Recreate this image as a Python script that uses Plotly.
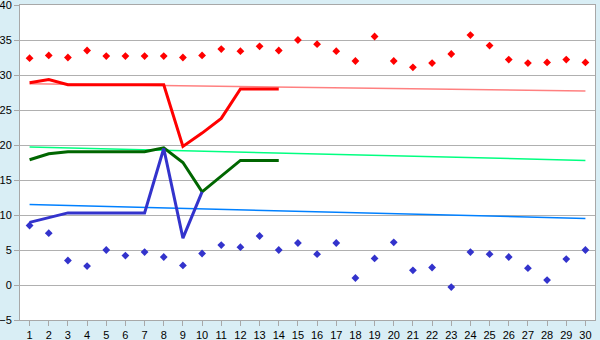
import plotly.graph_objects as go

categories = list(range(1, 31))

red_points = [32.4, 32.8, 32.5, 33.5, 32.7, 32.7, 32.7, 32.7, 32.5, 32.8,
              33.7, 33.4, 34.1, 33.5, 35.0, 34.4, 33.4, 32.0, 35.5, 32.0,
              31.1, 31.7, 33.0, 35.7, 34.2, 32.2, 31.7, 31.8, 32.2, 31.8]
blue_points = [8.5, 7.4, 3.5, 2.7, 5.0, 4.2, 4.7, 4.0, 2.8, 4.5,
               5.7, 5.4, 7.0, 5.0, 6.0, 4.4, 6.0, 1.0, 3.8, 6.1,
               2.1, 2.5, -0.3, 4.7, 4.4, 4.0, 2.4, 0.7, 3.7, 5.0]

red_line = [28.9, 29.35, 28.6, 28.6, 28.6, 28.6, 28.6, 28.6, 19.8, 21.7,
            23.8, 28.0, 28.0, 28.0]
green_line = [17.9, 18.75, 19.05, 19.1, 19.05, 19.05, 19.05, 19.6, 17.5, 13.3,
              15.5, 17.8, 17.8, 17.8]
blue_line = [8.95, 9.6, 10.3, 10.3, 10.3, 10.3, 10.3, 19.5, 6.7, 13.3]

trend_x = [1, 30]
red_trend = [28.75, 27.7]
green_trend = [19.7, 17.8]
blue_trend = [11.5, 9.5]

fig = go.Figure()

for y, c in [(red_trend, "#FF8080"), (green_trend, "#00FF80"), (blue_trend, "#0080FF")]:
    fig.add_trace(go.Scatter(x=trend_x, y=y, mode="lines",
                             line=dict(color=c, width=1.5), showlegend=False,
                             hoverinfo="skip"))

fig.add_trace(go.Scatter(x=categories[:len(red_line)], y=red_line, mode="lines",
                         line=dict(color="#FF0000", width=3), showlegend=False))
fig.add_trace(go.Scatter(x=categories[:len(green_line)], y=green_line, mode="lines",
                         line=dict(color="#006600", width=3), showlegend=False))
fig.add_trace(go.Scatter(x=categories[:len(blue_line)], y=blue_line, mode="lines",
                         line=dict(color="#3333CC", width=3), showlegend=False))

fig.add_trace(go.Scatter(x=categories, y=red_points, mode="markers",
                         marker=dict(symbol="diamond", size=6, color="#FF0000"),
                         showlegend=False))
fig.add_trace(go.Scatter(x=categories, y=blue_points, mode="markers",
                         marker=dict(symbol="diamond", size=6, color="#3333CC"),
                         showlegend=False))

axis_font = dict(family="Liberation Sans, Arial, sans-serif", size=11, color="#000000")

fig.update_layout(
    width=600, height=340,
    margin=dict(l=20, r=5, t=5, b=20),
    paper_bgcolor="#D9EEF5",
    plot_bgcolor="#FFFFFF",
    xaxis=dict(range=[0.5, 30.5], tickmode="array", tickvals=categories,
               ticktext=[str(c) for c in categories],
               showgrid=False, zeroline=False, automargin=False,
               showline=True, linecolor="#A8A8A8", linewidth=1, mirror=True,
               ticks="outside", ticklen=5, tickcolor="#A8A8A8",
               tickfont=axis_font, fixedrange=True),
    yaxis=dict(range=[-5, 40], tickmode="array",
               tickvals=[-5, 0, 5, 10, 15, 20, 25, 30, 35, 40],
               ticktext=["\u22125", "0", "5", "10", "15", "20", "25", "30", "35", "40"],
               showgrid=True, gridcolor="#B0B0B0", gridwidth=1,
               zeroline=False, automargin=False, ticklabeloverflow="allow",
               showline=True, linecolor="#A8A8A8", linewidth=1, mirror=True,
               ticks="outside", ticklen=5, tickcolor="#A8A8A8",
               tickfont=axis_font, fixedrange=True),
)

fig.write_html("out.html")
